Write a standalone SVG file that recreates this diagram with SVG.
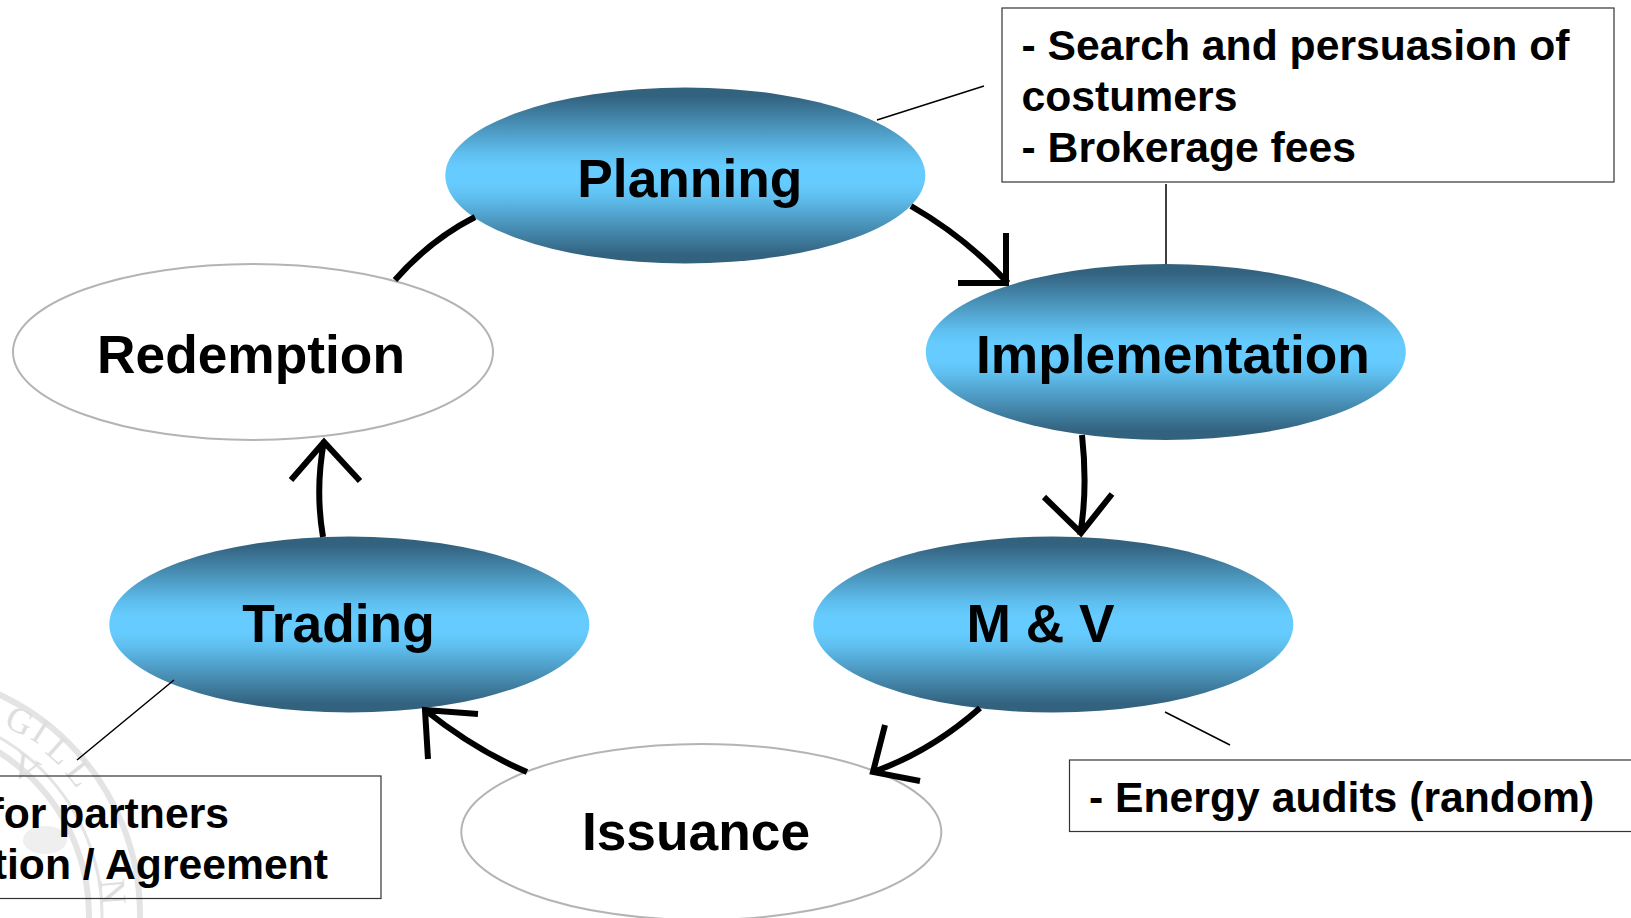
<svg xmlns="http://www.w3.org/2000/svg" width="1631" height="918" viewBox="0 0 1631 918">
<style>
text{font-family:"Liberation Sans",Arial,sans-serif;font-weight:bold;fill:#000}
.n{font-size:53.3px;text-anchor:middle}
.c{font-size:42.7px}
.e{text-anchor:end}
.box{fill:none;stroke:#333;stroke-width:1.2}
.lead{fill:none;stroke:#000;stroke-width:1.5}
.arc{fill:none;stroke:#000;stroke-width:6}
.white{fill:#fff;stroke:#b4b4b4;stroke-width:2}
.blue{fill:url(#g)}
.seal{fill:none;stroke:#e4e4e4;stroke-width:6}
.thin{stroke-width:3}
.sealt{font-family:"Liberation Serif",serif;font-size:36px;font-weight:normal;fill:#dedede}
</style>
<defs>
<linearGradient id="g" x1="0" y1="0" x2="0" y2="1">
<stop offset="0.05" stop-color="#33627f"/><stop offset="0.38" stop-color="#5fc0f0"/><stop offset="0.46" stop-color="#66ccff"/><stop offset="0.54" stop-color="#66ccff"/><stop offset="0.62" stop-color="#5fc0f0"/><stop offset="0.95" stop-color="#33627f"/>
</linearGradient>
</defs>
<rect width="1631" height="918" fill="#fff"/>
<g id="seal">
<circle class="seal" cx="-103" cy="915" r="243"/>
<circle class="seal" cx="-103" cy="915" r="192"/>
<circle class="seal thin" cx="-103" cy="915" r="205"/>
<text class="sealt" transform="translate(3 726) rotate(25)">G</text>
<text class="sealt" transform="translate(29 738) rotate(33)">I</text>
<text class="sealt" transform="translate(44 752) rotate(42)">L</text>
<text class="sealt" transform="translate(64 772) rotate(52)">L</text>
<text class="sealt" transform="translate(8 772) rotate(30)">V</text>
<text class="sealt" transform="translate(100 880) rotate(85)">N</text>
<ellipse cx="45" cy="840" rx="22" ry="14" fill="#efefef"/>
</g>
<g id="planning"><ellipse class="blue" cx="685.300" cy="175.5" rx="240" ry="88"/><text class="n" x="689.800" y="197">Planning</text></g>
<g id="implementation"><ellipse class="blue" cx="1165.800" cy="352" rx="240" ry="88"/><text class="n" x="1173" y="373">Implementation</text></g>
<g id="mv"><ellipse class="blue" cx="1053.300" cy="624.5" rx="240" ry="88"/><text class="n" x="1040.500" y="642">M &amp; V</text></g>
<g id="issuance"><ellipse class="white" cx="701.300" cy="832" rx="240" ry="88"/><text class="n" x="696" y="850">Issuance</text></g>
<g id="trading"><ellipse class="blue" cx="349.300" cy="624.5" rx="240" ry="88"/><text class="n" x="338.500" y="642">Trading</text></g>
<g id="redemption"><ellipse class="white" cx="253" cy="352" rx="240" ry="88"/><text class="n" x="251" y="373">Redemption</text></g>
<g id="note-planning"><rect class="box" x="1002" y="8" width="612" height="174"/>
<text class="c" x="1021.500" y="60">- Search and persuasion of</text>
<text class="c" x="1021.500" y="111">costumers</text>
<text class="c" x="1021.500" y="162">- Brokerage fees</text></g>
<g id="note-mv"><rect class="box" x="1069.500" y="760" width="580" height="71.500"/>
<text class="c" x="1089" y="812">- Energy audits (random)</text></g>
<g id="note-trading"><rect class="box" x="-20" y="776" width="401" height="122.500"/>
<text class="c e" x="229" y="828">for partners</text>
<text class="c e" x="328" y="879">tion / Agreement</text></g>
<g id="connectors">
<path class="arc" d="M395 280Q430 240 475 217"/>
<path class="arc" d="M911 206Q965 237 1008 283M1006 233V283H958"/>
<path class="arc" d="M1082 435Q1088 490 1080 535M1044 497L1081 533L1112 494"/>
<path class="arc" d="M980 708Q930 752 873 772M885 725L873 772L920 781"/>
<path class="arc" d="M527 772Q475 750 425 710M478 714L425 710L428 759"/>
<path class="arc" d="M323 537Q315 490 324 441M291 480L324 442L360 481"/>
<path class="lead" d="M877 120L984 86M1166 184V264M174 680L77 760M1165 712L1230 745"/>
</g>
</svg>
